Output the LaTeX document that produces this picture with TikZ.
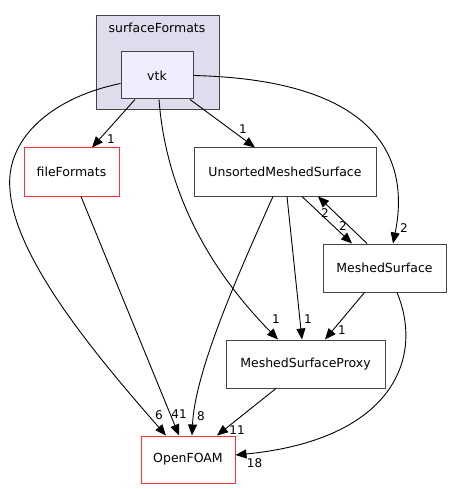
\documentclass[tikz,border=0pt]{standalone}
\usepackage{fontspec}
\setmainfont{DejaVu Sans}
\usetikzlibrary{arrows.meta}
\definecolor{boxgrey}{HTML}{444444}
\definecolor{clusterfill}{HTML}{DDDDEE}
\definecolor{dirfill}{HTML}{EEEEFF}
\definecolor{linkred}{HTML}{FF3333}

\begin{document}
\begin{tikzpicture}[
  x=1pt, y=-1pt,
  dirbox/.style={draw=boxgrey, fill=white, line width=1pt, inner sep=0pt, minimum height=48pt, font=\fontsize{12.5}{14}\selectfont},
  extbox/.style={dirbox, draw=linkred},
  cluster/.style={draw=boxgrey, fill=clusterfill, line width=1pt, inner sep=0pt},
  arr/.style={-{Triangle[length=11pt,width=9pt]}, black, line width=0.9pt},
  lbl/.style={font=\fontsize{12}{13}\selectfont, inner sep=0pt}
]
\useasboundingbox (0,0) rectangle (451,489);

\node[cluster, minimum width=123pt, minimum height=94pt] (sf) at (157.5,63) {};
\node[font=\fontsize{12.5}{14}\selectfont] (sftitle) at (157,28) {surfaceFormats};
\node[dirbox, fill=dirfill, minimum width=72pt, minimum height=47pt] (vtk) at (157,75.5) {vtk};

\node[extbox, minimum width=95pt] (ff) at (71.5,172) {fileFormats};
\node[dirbox, minimum width=182pt] (ums) at (285,172) {UnsortedMeshedSurface};
\node[dirbox, minimum width=123pt] (ms) at (384.5,268) {MeshedSurface};
\node[dirbox, minimum width=159pt] (msp) at (305.5,364) {MeshedSurfaceProxy};
\node[extbox, minimum width=94pt, minimum height=47pt] (of) at (188,459.5) {OpenFOAM};

\draw[arr] ([xshift=-22pt]vtk.south) -- ([xshift=20.5pt]ff.north) node[lbl, at end, xshift=19pt, yshift=8pt] {1};
\draw[arr] ([xshift=33pt]vtk.south) -- ([xshift=-30pt]ums.north) node[lbl, at end, xshift=-12pt, yshift=18pt] {1};
\draw[arr] (vtk.east) .. controls (380,80) and (410,160) .. ([xshift=8.5pt]ms.north) node[lbl, at end, xshift=11pt, yshift=15pt] {2};
\draw[arr] ([yshift=-8pt]vtk.west) .. controls (50,98) and (5,140) .. (10,190) .. controls (15,260) and (100,360) .. ([xshift=-22pt]of.north) node[lbl, at end, xshift=-7pt, yshift=20pt] {6};
\draw[arr] ([xshift=2pt]vtk.south) .. controls (165,180) and (200,260) .. ([xshift=-27.5pt]msp.north) node[lbl, at end, xshift=-2pt, yshift=20pt] {1};

\draw[arr] ([xshift=9.5pt]ff.south) -- ([xshift=-9pt]of.north) node[lbl, at end, xshift=0pt, yshift=21pt] {41};
\draw[arr] ([xshift=-12pt]ums.south) .. controls (240,270) and (195,370) .. ([xshift=4pt]of.north) node[lbl, at end, xshift=9pt, yshift=19pt] {8};
\draw[arr] ([xshift=2pt]ums.south) -- ([xshift=-3.5pt]msp.north) node[lbl, at end, xshift=6pt, yshift=20pt] {1};
\draw[arr] ([xshift=17pt]ums.south) -- ([xshift=-32.5pt]ms.north) node[lbl, at end, xshift=-9pt, yshift=17pt] {2};
\draw[arr] ([xshift=-17.5pt]ms.north) -- ([xshift=33pt]ums.south) node[lbl, at end, xshift=7pt, yshift=-17pt] {2};
\draw[arr] ([xshift=-20pt]ms.south) -- ([xshift=19.5pt]msp.north) node[lbl, at end, xshift=17pt, yshift=9pt] {1};
\draw[arr] ([xshift=12.5pt]ms.south) .. controls (425,360) and (390,440) .. ([yshift=4.5pt]of.east) node[lbl, at end, xshift=19pt, yshift=-8pt] {18};
\draw[arr] ([xshift=-29.5pt]msp.south) -- ([xshift=29pt]of.north) node[lbl, at end, xshift=20pt, yshift=5pt] {11};
\end{tikzpicture}
\end{document}
